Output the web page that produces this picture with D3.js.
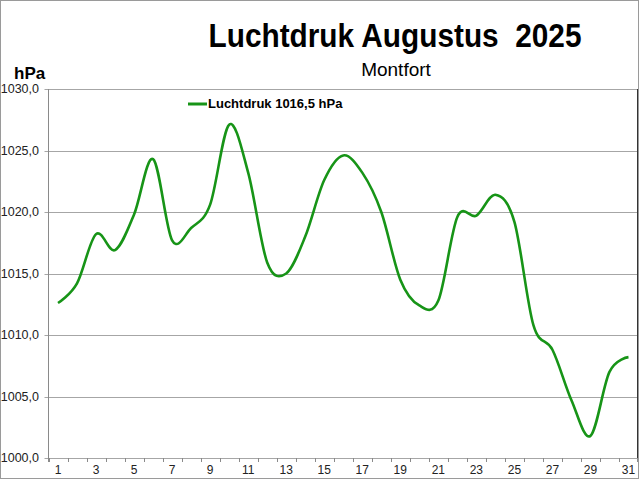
<!DOCTYPE html>
<html>
<head>
<meta charset="utf-8">
<script src="https://cdn.jsdelivr.net/npm/d3@7"></script>
<style>
    body { margin: 0; background: #fff; }
    svg { display: block; font-family: "Liberation Sans", Arial, sans-serif; }
</style>
</head>
<body>
<svg id="chart" width="640" height="480"></svg>
<script>
// dagen van augustus 2025
var days = d3.range(1, 32)
var pressure = [1012.6, 1014.2, 1018.2, 1016.9, 1019.8, 1024.3, 1017.7, 1018.7, 1020.6, 1027.1,
    1023.2, 1015.9, 1015.0, 1018.0, 1022.6, 1024.6, 1023.2, 1020.0, 1014.5, 1012.4,
    1012.8, 1019.6, 1019.7, 1021.4, 1019.2, 1010.8, 1008.8, 1004.7, 1001.8, 1007.0, 1008.2]
var yTicks = [1000, 1005, 1010, 1015, 1020, 1025, 1030]
var xLabels = [1, 3, 5, 7, 9, 11, 13, 15, 17, 19, 21, 23, 25, 27, 29, 31]
var title = "Luchtdruk Augustus  2025"
var subtitle = "Montfort"
var legendText = "Luchtdruk 1016,5 hPa"

var svg = d3.select("#chart")
// let op: "top" is een window property, dus andere namen
var plotLeft = 48.5, plotRight = 638, plotTop = 89, plotBottom = 458

// rand om de hele afbeelding
svg.append("rect")
    .attr("x", 0.5).attr("y", 0.5)
    .attr("width", 638).attr("height", 478)
    .attr("fill", "none")
    .attr("stroke", "#9a9a9a")

var x = d3.scaleBand()
    .domain(days)
    .range([plotLeft, plotRight])

var y = d3.scaleLinear()
    .domain([1000, 1030])
    .range([plotBottom, plotTop])

// gridlijnen
svg.append("g")
    .selectAll("line")
    .data(yTicks)
    .enter()
    .append("line")
    .attr("x1", plotLeft - 4)
    .attr("x2", plotRight)
    .attr("y1", d => Math.round(y(d)) + 0.5)
    .attr("y2", d => Math.round(y(d)) + 0.5)
    .attr("stroke", "#a6a6a6")

// y labels
svg.append("g")
    .selectAll("text")
    .data(yTicks)
    .enter()
    .append("text")
    .attr("x", 39)
    .attr("y", d => y(d) + 4)
    .attr("text-anchor", "end")
    .style("font-size", "12.5px")
    .style("fill", "#222")
    .text(d => d3.format(".1f")(d).replace(".", ","))

// assen
svg.append("line")
    .attr("x1", plotLeft).attr("x2", plotLeft)
    .attr("y1", plotTop).attr("y2", plotBottom + 4)
    .attr("stroke", "#8a8a8a")
svg.append("line")
    .attr("x1", plotRight - 0.5).attr("x2", plotRight - 0.5)
    .attr("y1", plotTop).attr("y2", plotBottom)
    .attr("stroke", "#333")

// x ticks op de grenzen van de categorieen
svg.append("g")
    .selectAll("line")
    .data(days.concat([32]))
    .enter()
    .append("line")
    .attr("x1", d => d <= 31 ? Math.round(x(d)) + 0.5 : plotRight - 0.5)
    .attr("x2", d => d <= 31 ? Math.round(x(d)) + 0.5 : plotRight - 0.5)
    .attr("y1", plotBottom)
    .attr("y2", plotBottom + 4)
    .attr("stroke", "#8a8a8a")

svg.append("g")
    .selectAll("text")
    .data(xLabels)
    .enter()
    .append("text")
    .attr("x", d => x(d) + x.bandwidth() / 2)
    .attr("y", 474)
    .attr("text-anchor", "middle")
    .style("font-size", "12px")
    .style("fill", "#222")
    .text(d => d)

// de lijn
var line = d3.line()
    .x((d, i) => x(days[i]) + x.bandwidth() / 2)
    .y(d => y(d))
    .curve(d3.curveCardinal.tension(0))

svg.append("path")
    .datum(pressure)
    .attr("d", line)
    .attr("fill", "none")
    .attr("stroke", "#179417")
    .attr("stroke-width", 2.6)
    .attr("stroke-linejoin", "round")

// titels
svg.append("text")
    .attr("x", 395)
    .attr("y", 47)
    .attr("text-anchor", "middle")
    .attr("textLength", 373)
    .attr("lengthAdjust", "spacingAndGlyphs")
    .style("white-space", "pre")
    .style("font-size", "33px")
    .style("font-weight", "bold")
    .text(title)

svg.append("text")
    .attr("x", 396)
    .attr("y", 76)
    .attr("text-anchor", "middle")
    .style("font-size", "19px")
    .text(subtitle)

svg.append("text")
    .attr("x", 14)
    .attr("y", 79)
    .style("font-size", "17px")
    .style("font-weight", "bold")
    .text("hPa")

// legenda
svg.append("line")
    .attr("x1", 188).attr("x2", 207)
    .attr("y1", 104).attr("y2", 104)
    .attr("stroke", "#179417")
    .attr("stroke-width", 3)
svg.append("text")
    .attr("x", 208)
    .attr("y", 108)
    .style("font-size", "13px")
    .style("font-weight", "bold")
    .text(legendText)
</script>
</body>
</html>
